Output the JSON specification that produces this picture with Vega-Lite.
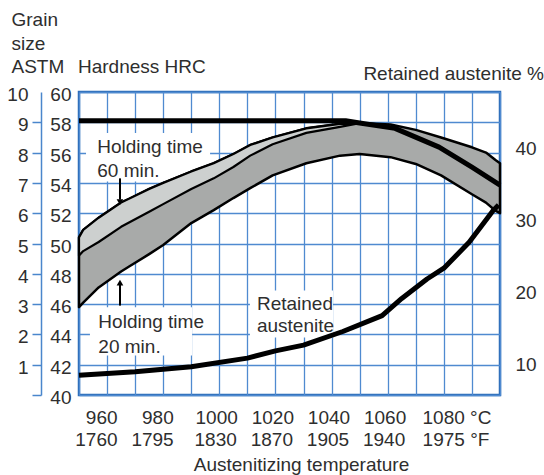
{
  "$schema": "https://vega.github.io/schema/vega-lite/v6.json",
  "width": 421,
  "height": 303,
  "autosize": {"type": "none"},
  "padding": {"left": 79, "top": 92, "right": 44, "bottom": 80},
  "background": "white",
  "datasets": {
    "boxes": [
      {"T": 952.5, "T2": 996.7, "H": 54.1, "H2": 57.3},
      {"T": 953.9, "T2": 990.3, "H": 42.6, "H2": 45.8},
      {"T": 1010.9, "T2": 1040.5, "H": 43.8, "H2": 46.9}
    ],
    "band": [
      {"T": 950, "H": 50.4, "H2": 45.8}, {"T": 951.5, "H": 50.9, "H2": 46.1},
      {"T": 957, "H": 51.7, "H2": 47.1}, {"T": 965, "H": 52.7, "H2": 48.15},
      {"T": 968, "H": 52.95, "H2": 48.5}, {"T": 975, "H": 53.6, "H2": 49.3},
      {"T": 980, "H": 54.0, "H2": 49.9}, {"T": 990, "H": 54.75, "H2": 51.35},
      {"T": 998, "H": 55.3, "H2": 52.2}, {"T": 1005, "H": 55.9, "H2": 53.0},
      {"T": 1011, "H": 56.5, "H2": 53.65}, {"T": 1019, "H": 57.0, "H2": 54.5},
      {"T": 1031, "H": 57.6, "H2": 55.3}, {"T": 1043, "H": 57.9, "H2": 55.8},
      {"T": 1050, "H": 57.95, "H2": 55.9}, {"T": 1061, "H": 57.85, "H2": 55.7},
      {"T": 1070, "H": 57.5, "H2": 55.25}, {"T": 1079, "H": 57.0, "H2": 54.5},
      {"T": 1090, "H": 56.35, "H2": 53.25}, {"T": 1095, "H": 56.0, "H2": 52.7},
      {"T": 1098.5, "H": 55.5, "H2": 52.15}, {"T": 1100, "H": 55.3, "H2": 52.0}
    ],
    "light": [
      {"T": 950, "H": 50.4, "H2": 49.2}, {"T": 951.5, "H": 50.9, "H2": 49.5},
      {"T": 957, "H": 51.7, "H2": 50.1}, {"T": 965, "H": 52.7, "H2": 51.1},
      {"T": 975, "H": 53.6, "H2": 52.1}, {"T": 980, "H": 54.0, "H2": 52.6},
      {"T": 990, "H": 54.75, "H2": 53.6}, {"T": 998, "H": 55.3, "H2": 54.3},
      {"T": 1005, "H": 55.9, "H2": 55.05}, {"T": 1011, "H": 56.5, "H2": 55.8},
      {"T": 1019, "H": 57.0, "H2": 56.55}, {"T": 1031, "H": 57.6, "H2": 57.3},
      {"T": 1043, "H": 57.9, "H2": 57.7}, {"T": 1050, "H": 57.95, "H2": 57.95}
    ],
    "shafts": [
      {"T": 964.6, "H": 54.3, "H2": 52.9},
      {"T": 964.6, "H": 45.9, "H2": 47.3}
    ],
    "heads": [
      {"T": 964.6, "H": 52.73, "dir": "down"},
      {"T": 964.6, "H": 47.42, "dir": "up"}
    ],
    "labels": [
      {"T": 956.5, "H": 56.0, "label": "Holding time"},
      {"T": 956.5, "H": 54.4, "label": "60 min."},
      {"T": 956.9, "H": 44.4, "label": "Holding time"},
      {"T": 956.9, "H": 42.75, "label": "20 min."},
      {"T": 1013.4, "H": 45.6, "label": "Retained"},
      {"T": 1013.4, "H": 44.15, "label": "austenite"}
    ],
    "grain": [
      {"T": 950, "G": 9.05}, {"T": 1045, "G": 9.05}, {"T": 1050, "G": 8.98},
      {"T": 1062.6, "G": 8.8}, {"T": 1078.3, "G": 8.18}, {"T": 1090, "G": 7.52},
      {"T": 1100, "G": 6.93}
    ],
    "ra": [
      {"T": 950, "RA": 8.5}, {"T": 970, "RA": 9.0}, {"T": 990, "RA": 9.7},
      {"T": 1010, "RA": 10.9}, {"T": 1020, "RA": 11.9}, {"T": 1030, "RA": 12.7},
      {"T": 1044, "RA": 14.6}, {"T": 1058, "RA": 16.8}, {"T": 1065, "RA": 19.2},
      {"T": 1074, "RA": 21.9}, {"T": 1080, "RA": 23.4}, {"T": 1089, "RA": 27.0},
      {"T": 1097.5, "RA": 31.4}, {"T": 1099.5, "RA": 32.2}
    ]
  },
  "layer": [
    {
      "data": {"name": "boxes"},
      "mark": {"type": "rect", "fill": "white", "stroke": null},
      "encoding": {
        "x": {
          "field": "T", "type": "quantitative",
          "scale": {"domain": [950, 1100], "nice": false, "zero": false},
          "axis": {
            "orient": "bottom",
            "values": [950, 960, 970, 980, 990, 1000, 1010, 1020, 1030, 1040, 1050, 1060, 1070, 1080, 1090, 1100],
            "format": "d",
            "grid": true, "ticks": false, "tickSize": 0, "domain": false,
            "labelExpr": "datum.value == 1080 ? '1080 °C' : ((datum.value >= 960 && datum.value <= 1060 && datum.value % 20 == 0) ? datum.label : '')",
            "labelAlign": "right", "labelBaseline": "alphabetic", "labelPadding": 28,
            "labelOffset": {"condition": [{"test": "datum.value < 1000", "value": 10}, {"test": "datum.value == 1080", "value": 47}], "value": 18},
            "labelFlush": false, "labelOverlap": false, "labelBound": false,
            "title": "Austenitizing temperature",
            "titleX": 222, "titleY": 75, "titleAlign": "center", "titleBaseline": "alphabetic", "titleAngle": 0
          }
        },
        "x2": {"field": "T2"},
        "y": {
          "field": "H", "type": "quantitative",
          "scale": {"domain": [40, 60], "nice": false, "zero": false},
          "axis": {
            "orient": "left", "offset": 0,
            "values": [40, 42, 44, 46, 48, 50, 52, 54, 56, 58, 60],
            "grid": true, "ticks": false, "tickSize": 0, "domain": false,
            "labelPadding": 8, "labelOffset": 2.5, "labelOverlap": false, "labelBound": false,
            "title": "Hardness HRC", "titleAngle": 0, "titleAlign": "left",
            "titleBaseline": "alphabetic", "titleX": -1.5, "titleY": -19.5
          }
        },
        "y2": {"field": "H2"}
      }
    },
    {
      "data": {"name": "band"},
      "mark": {"type": "area", "fill": "#a8aaa9", "fillOpacity": 1, "stroke": "black", "strokeWidth": 2.5, "strokeJoin": "round"},
      "encoding": {
        "x": {"field": "T", "type": "quantitative", "axis": null},
        "y": {"field": "H", "type": "quantitative", "scale": {"domain": [40, 60], "nice": false, "zero": false}, "axis": null},
        "y2": {"field": "H2"}
      }
    },
    {
      "data": {"name": "light"},
      "mark": {"type": "area", "fill": "#cdd0cf", "fillOpacity": 1, "stroke": "black", "strokeWidth": 2.2, "strokeJoin": "round"},
      "encoding": {
        "x": {"field": "T", "type": "quantitative", "axis": null},
        "y": {"field": "H", "type": "quantitative", "scale": {"domain": [40, 60], "nice": false, "zero": false}, "axis": null},
        "y2": {"field": "H2"}
      }
    },
    {
      "data": {"name": "shafts"},
      "mark": {"type": "rule", "color": "black", "strokeWidth": 2},
      "encoding": {
        "x": {"field": "T", "type": "quantitative", "axis": null},
        "y": {"field": "H", "type": "quantitative", "scale": {"domain": [40, 60], "nice": false, "zero": false}, "axis": null},
        "y2": {"field": "H2"}
      }
    },
    {
      "data": {"name": "heads"},
      "mark": {"type": "point", "filled": true, "color": "black", "opacity": 1, "size": 45},
      "encoding": {
        "x": {"field": "T", "type": "quantitative", "axis": null},
        "y": {"field": "H", "type": "quantitative", "scale": {"domain": [40, 60], "nice": false, "zero": false}, "axis": null},
        "shape": {"field": "dir", "type": "nominal", "scale": {"domain": ["down", "up"], "range": ["triangle-down", "triangle-up"]}, "legend": null}
      }
    },
    {
      "data": {"name": "labels"},
      "mark": {"type": "text", "align": "left", "baseline": "alphabetic", "font": "Liberation Sans", "fontSize": 19, "color": "#2e2e2e"},
      "encoding": {
        "x": {"field": "T", "type": "quantitative", "axis": null},
        "y": {"field": "H", "type": "quantitative", "scale": {"domain": [40, 60], "nice": false, "zero": false}, "axis": null},
        "text": {"field": "label"}
      }
    },
    {
      "data": {"name": "grain"},
      "mark": {"type": "line", "color": "black", "strokeWidth": 5, "strokeJoin": "round"},
      "encoding": {
        "x": {
          "field": "T", "type": "quantitative",
          "axis": {
            "orient": "bottom",
            "values": [960, 980, 1000, 1020, 1040, 1060, 1080],
            "grid": false, "ticks": false, "tickSize": 0, "domain": false,
            "labelExpr": "datum.value == 960 ? '1760' : datum.value == 980 ? '1795' : datum.value == 1000 ? '1830' : datum.value == 1020 ? '1870' : datum.value == 1040 ? '1905' : datum.value == 1060 ? '1940' : '1975 °F'",
            "labelAlign": "right", "labelBaseline": "alphabetic", "labelPadding": 50,
            "labelOffset": {"condition": [{"test": "datum.value < 1000", "value": 10}, {"test": "datum.value == 1080", "value": 45}], "value": 17},
            "labelFlush": false, "labelOverlap": false, "labelBound": false,
            "title": null
          }
        },
        "y": {
          "field": "G", "type": "quantitative",
          "scale": {"domain": [0, 10], "nice": false, "zero": false},
          "axis": {
            "orient": "left", "offset": 38,
            "values": [0, 1, 2, 3, 4, 5, 6, 7, 8, 9, 10],
            "grid": false, "ticks": true, "tickSize": 9, "tickWidth": 1.5,
            "tickColor": {"condition": {"test": "datum.value == 10", "value": "transparent"}, "value": "#4a86cc"},
            "domain": true, "domainColor": "#4a86cc", "domainWidth": 1.5,
            "labelPadding": 4, "labelOffset": 2.5, "labelOverlap": false, "labelBound": false,
            "labelExpr": "datum.value == 0 ? '' : datum.label",
            "title": ["Grain", "size", "ASTM"], "titleAngle": 0, "titleAlign": "left",
            "titleBaseline": "alphabetic", "titleX": -30, "titleY": -66.3, "titleLineHeight": 23.5
          }
        }
      }
    },
    {
      "data": {"name": "ra"},
      "mark": {"type": "line", "color": "black", "strokeWidth": 5, "strokeJoin": "round"},
      "encoding": {
        "x": {"field": "T", "type": "quantitative", "axis": null},
        "y": {
          "field": "RA", "type": "quantitative",
          "scale": {"domain": [5.77, 47.9], "nice": false, "zero": false},
          "axis": {
            "orient": "right", "offset": 0,
            "values": [10, 20, 30, 40],
            "grid": false, "ticks": false, "tickSize": 0, "domain": false,
            "labelPadding": 15, "labelOverlap": false,
            "title": "Retained austenite %", "titleAngle": 0, "titleAlign": "right",
            "titleBaseline": "alphabetic", "titleX": 43.5, "titleY": -13
          }
        }
      }
    }
  ],
  "resolve": {"scale": {"y": "independent"}, "axis": {"x": "independent", "y": "independent"}},
  "config": {
    "font": "Liberation Sans",
    "view": {"stroke": "#2b6cb9", "strokeWidth": 2.5},
    "axis": {
      "labelFont": "Liberation Sans", "labelFontSize": 19, "labelColor": "#2e2e2e",
      "titleFont": "Liberation Sans", "titleFontSize": 19, "titleFontWeight": "normal", "titleColor": "#2e2e2e",
      "gridColor": "#4f8ad0", "gridWidth": 1.3, "gridOpacity": 1
    }
  }
}
